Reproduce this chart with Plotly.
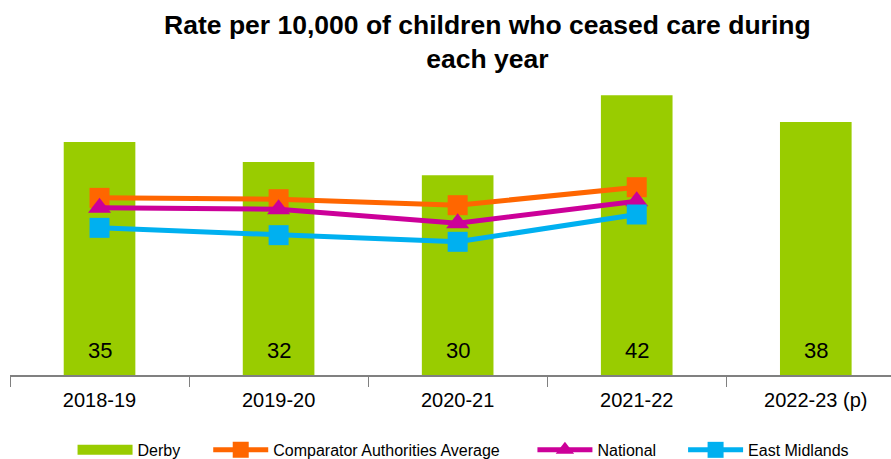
import plotly.graph_objects as go

ANOS = ["2018-19", "2019-20", "2020-21", "2021-22", "2022-23 (p)"]
DERBY = [35, 32, 30, 42, 38]
COMPARADOR = [26.6, 26.4, 25.5, 28.2]
NACIONAL = [25.1, 24.9, 22.8, 26.1]
EAST_MIDLANDS = [22.1, 21.0, 20.0, 24.1]

CORES = {
    "verde":   "#99CC00",
    "laranja": "#FF6600",
    "rosa":    "#CC0099",
    "azul":    "#00B0F0",
    "eixo":    "#808080",
}
FONTE = "Liberation Sans, Arial, sans-serif"


def linha(y, nome, cor, simbolo, legenda):
    return go.Scatter(
        x=ANOS[:len(y)], y=y, name=nome,
        mode="lines+markers",
        line=dict(color=cor, width=5),
        marker=dict(symbol=simbolo, size=20, color=cor),
        legend=legenda,
    )


def legenda_item(x):
    # uma legenda por série, para espaçar como no original
    return dict(
        orientation="h", x=x, xanchor="left", y=-0.254, yanchor="middle",
        font=dict(size=16, color="black", family=FONTE), itemwidth=55,
        bgcolor="rgba(0,0,0,0)",
    )


fig = go.Figure()
fig.add_trace(go.Bar(
    x=ANOS, y=DERBY, name="Derby",
    marker=dict(color=CORES["verde"], line=dict(width=0)),
    width=0.4, showlegend=False,
))
# entrada de legenda da barra como retângulo largo
fig.add_trace(go.Scatter(
    x=[None], y=[None], name="Derby", mode="lines",
    line=dict(color=CORES["verde"], width=11), legend="legend",
))
fig.add_trace(linha(COMPARADOR, "Comparator Authorities Average", CORES["laranja"], "square", "legend2"))
fig.add_trace(linha(NACIONAL, "National", CORES["rosa"], "triangle-up", "legend3"))
fig.add_trace(linha(EAST_MIDLANDS, "East Midlands", CORES["azul"], "square", "legend4"))

# rótulos dos valores na base das barras
for ano, v in zip(ANOS, DERBY):
    fig.add_annotation(x=ano, y=0, text=str(v), showarrow=False,
                       yshift=25, font=dict(size=22, color="black", family=FONTE))

fig.update_layout(
    width=891, height=459,
    plot_bgcolor="white", paper_bgcolor="white",
    font=dict(family=FONTE, color="black"),
    margin=dict(l=10, r=0, t=80, b=84, autoexpand=False),
    title=dict(
        text="<b>Rate per 10,000 of children who ceased care during<br>each year</b>",
        x=0.547, xanchor="center", y=0.926, yanchor="top",
        font=dict(size=26.5, color="black", family=FONTE),
    ),
    showlegend=True,
    legend=legenda_item(0.071),
    legend2=legenda_item(0.225),
    legend3=legenda_item(0.593),
    legend4=legenda_item(0.764),
    bargap=0.6,
)
fig.update_xaxes(
    type="category", range=[-0.5, 4.42],
    showline=True, linecolor=CORES["eixo"], linewidth=2,
    ticks="outside", tickson="boundaries", ticklen=10, tickcolor=CORES["eixo"],
    tickfont=dict(size=20, color="black"), ticklabelstandoff=6, showgrid=False,
)
fig.update_yaxes(range=[0, 44.3], visible=False, showgrid=False)

# sem margem no body para a figura ocupar a janela toda
fig.write_html("out.html", config={"displayModeBar": False},
               post_script="document.body.style.margin='0';")
